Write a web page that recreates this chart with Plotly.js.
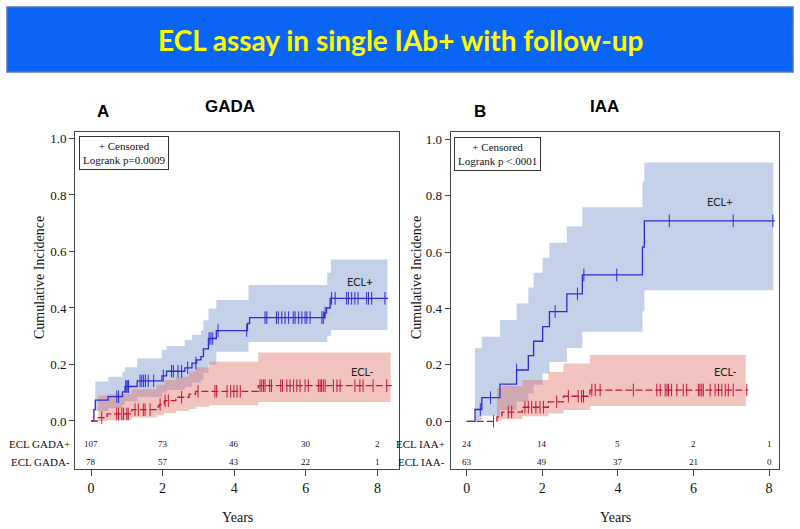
<!DOCTYPE html>
<html>
<head>
<meta charset="utf-8">
<script src="https://cdn.plot.ly/plotly-3.0.1.min.js"></script>
<style>html,body{margin:0;padding:0;background:#fff}#chart{width:800px;height:529px}</style>
</head>
<body>
<div id="chart"></div>
<script>
// ---------------- DATA ----------------
// Panel A: GADA
const gadaPosTimes = [0, 0.08, 0.12, 0.48, 0.88, 0.95, 1.29, 1.98, 2.11, 2.62, 2.82, 2.95, 3.07, 3.14, 3.28, 3.50, 4.37, 4.43, 6.52, 6.58, 6.68, 8.30];
const gadaPosVals  = [0, 0.04, 0.074, 0.086, 0.103, 0.122, 0.142, 0.16, 0.176, 0.188, 0.205, 0.216, 0.228, 0.255, 0.292, 0.32, 0.345, 0.366, 0.383, 0.40, 0.434, 0.434];
const gadaPosCens  = [0.72, 0.77, 0.97, 1.0, 1.03, 1.05, 1.37, 1.42, 1.47, 1.52, 1.6, 1.75, 2.02, 2.25, 2.3, 2.43, 2.53, 2.7, 2.93, 3.3, 3.35, 3.4, 3.55, 4.35, 4.86, 4.91, 5.18, 5.23, 5.33, 5.42, 5.52, 5.65, 5.7, 5.8, 5.89, 5.98, 6.03, 6.12, 6.45, 6.49, 6.54, 6.72, 6.82, 7.14, 7.19, 7.28, 7.37, 7.46, 7.7, 7.75, 7.84, 8.21];
const gadaPosBandTimes = [0.12, 0.48, 0.88, 0.95, 1.29, 1.98, 2.11, 2.62, 2.82, 3.07, 3.14, 3.28, 3.50, 4.40, 6.60, 6.70];
const gadaPosBandUpper = [0.14, 0.157, 0.174, 0.19, 0.221, 0.251, 0.265, 0.287, 0.305, 0.32, 0.357, 0.398, 0.428, 0.481, 0.525, 0.572];
const gadaPosBandLower = [0.035, 0.045, 0.058, 0.07, 0.085, 0.10, 0.11, 0.12, 0.135, 0.145, 0.17, 0.20, 0.245, 0.28, 0.30, 0.322];
const gadaPosBandEnd = 8.28;

const gadaNegTimes = [0, 0.2, 0.45, 1.14, 1.83, 1.9, 2.05, 2.37, 2.74, 2.92, 4.67, 8.40];
const gadaNegVals  = [0, 0.012, 0.025, 0.04, 0.05, 0.058, 0.072, 0.084, 0.095, 0.105, 0.125, 0.125];
const gadaNegCens  = [0.3, 0.72, 0.77, 0.86, 0.91, 1.0, 1.04, 1.23, 1.32, 1.46, 1.51, 1.65, 1.93, 2.07, 2.16, 2.53, 2.99, 3.46, 3.51, 3.8, 3.9, 3.99, 4.08, 4.17, 4.72, 4.77, 4.82, 4.86, 4.99, 5.04, 5.3, 5.35, 5.47, 5.56, 5.66, 5.75, 5.84, 5.98, 6.07, 6.35, 6.4, 6.44, 6.49, 6.54, 6.77, 6.87, 6.96, 7.37, 7.51, 7.6, 7.88, 8.26];
const gadaNegBandTimes = [0.2, 0.45, 1.14, 1.83, 2.05, 2.37, 2.74, 2.92, 3.3, 4.67];
const gadaNegBandUpper = [0.09, 0.095, 0.112, 0.128, 0.145, 0.157, 0.175, 0.19, 0.21, 0.242];
const gadaNegBandLower = [0.0, 0.003, 0.012, 0.02, 0.028, 0.035, 0.042, 0.05, 0.056, 0.067];
const gadaNegBandEnd = 8.37;

// Panel B: IAA
const iaaPosTimes = [0, 0.22, 0.40, 0.88, 1.32, 1.63, 1.77, 2.01, 2.19, 2.65, 3.06, 4.65, 4.70, 8.15];
const iaaPosVals  = [0, 0.042, 0.084, 0.132, 0.182, 0.233, 0.284, 0.336, 0.389, 0.452, 0.519, 0.618, 0.711, 0.711];
const iaaPosCens  = [0.36, 0.63, 1.32, 2.34, 2.93, 3.1, 3.97, 5.36, 7.05, 8.1];
const iaaPosBandTimes = [0.22, 0.40, 0.88, 1.32, 1.63, 1.77, 2.01, 2.19, 2.65, 3.06, 4.65, 4.70];
const iaaPosBandUpper = [0.259, 0.30, 0.359, 0.418, 0.475, 0.527, 0.58, 0.633, 0.692, 0.759, 0.85, 0.918];
const iaaPosBandLower = [0.003, 0.02, 0.04, 0.07, 0.10, 0.13, 0.17, 0.21, 0.26, 0.318, 0.39, 0.465];
const iaaPosBandEnd = 8.11;

const iaaNegTimes = [0, 0.8, 0.93, 1.47, 2.16, 2.56, 3.26, 7.45];
const iaaNegVals  = [0, 0.016, 0.033, 0.05, 0.069, 0.089, 0.111, 0.111];
const iaaNegCens  = [0.71, 1.1, 1.19, 1.54, 1.63, 1.72, 1.83, 1.94, 2.03, 2.38, 2.69, 2.95, 3.04, 3.09, 3.31, 3.4, 3.53, 4.41, 5.03, 5.12, 5.25, 5.3, 5.34, 5.42, 5.56, 5.73, 5.82, 6.13, 6.17, 6.22, 6.26, 6.44, 6.57, 6.66, 6.75, 6.84, 6.92, 7.05, 7.41];
const iaaNegBandTimes = [0.8, 0.93, 1.47, 2.16, 2.56, 3.26];
const iaaNegBandUpper = [0.117, 0.125, 0.147, 0.175, 0.205, 0.235];
const iaaNegBandLower = [0.002, 0.008, 0.018, 0.028, 0.04, 0.054];
const iaaNegBandEnd = 7.38;

// Number at risk
const riskYears = [0, 2, 4, 6, 8];
const gadaPosRisk = [107, 73, 46, 30, 2];
const gadaNegRisk = [78, 57, 43, 22, 1];
const iaaPosRisk = [24, 14, 5, 2, 1];
const iaaNegRisk = [63, 49, 37, 21, 0];

const xTickVals = [0, 2, 4, 6, 8];
const yTickVals = [0, 0.2, 0.4, 0.6, 0.8, 1.0];
const yTickText = ['0.0', '0.2', '0.4', '0.6', '0.8', '1.0'];

// ---------------- HELPERS ----------------
const SERIF = 'Liberation Serif, Times New Roman, serif';
const SANS = 'Lato, Open Sans, sans-serif';
const BLUE = 'rgb(43,43,217)';
const RED = 'rgb(200,22,52)';
const BLUE_FILL = 'rgba(110,140,200,0.4)';
const RED_FILL = 'rgba(222,107,97,0.4)';

function stepAt(times, vals, t) {
  let v = vals[0];
  for (let i = 0; i < times.length; i++) { if (times[i] <= t) v = vals[i]; }
  return v;
}
function bandTrace(times, up, lo, end, color, xa, ya) {
  const xs = [], ys = [];
  for (let i = 0; i < times.length; i++) {
    const t1 = i + 1 < times.length ? times[i + 1] : end;
    xs.push(times[i], t1); ys.push(up[i], up[i]);
  }
  for (let i = times.length - 1; i >= 0; i--) {
    const t1 = i + 1 < times.length ? times[i + 1] : end;
    xs.push(t1, times[i]); ys.push(lo[i], lo[i]);
  }
  return {x: xs, y: ys, xaxis: xa, yaxis: ya, mode: 'lines', fill: 'toself', fillcolor: color,
    line: {width: 0}, hoverinfo: 'skip', type: 'scatter'};
}
function curveTrace(times, vals, color, dash, xa, ya) {
  return {x: times, y: vals, xaxis: xa, yaxis: ya, mode: 'lines', type: 'scatter',
    line: {color: color, width: 1.3, shape: 'hv', dash: dash}};
}
function censTrace(times, vals, cens, color, xa, ya) {
  return {x: cens, y: cens.map(t => stepAt(times, vals, t)), xaxis: xa, yaxis: ya, mode: 'markers', type: 'scatter',
    marker: {symbol: 'line-ns', size: 9, color: color, line: {color: color, width: 1}}};
}

const traces = [
  bandTrace(gadaPosBandTimes, gadaPosBandUpper, gadaPosBandLower, gadaPosBandEnd, BLUE_FILL, 'x', 'y'),
  bandTrace(gadaNegBandTimes, gadaNegBandUpper, gadaNegBandLower, gadaNegBandEnd, RED_FILL, 'x', 'y'),
  curveTrace(gadaPosTimes, gadaPosVals, BLUE, 'solid', 'x', 'y'),
  curveTrace(gadaNegTimes, gadaNegVals, RED, '7px,3px', 'x', 'y'),
  censTrace(gadaPosTimes, gadaPosVals, gadaPosCens, BLUE, 'x', 'y'),
  censTrace(gadaNegTimes, gadaNegVals, gadaNegCens, RED, 'x', 'y'),
  bandTrace(iaaPosBandTimes, iaaPosBandUpper, iaaPosBandLower, iaaPosBandEnd, BLUE_FILL, 'x2', 'y2'),
  bandTrace(iaaNegBandTimes, iaaNegBandUpper, iaaNegBandLower, iaaNegBandEnd, RED_FILL, 'x2', 'y2'),
  curveTrace(iaaPosTimes, iaaPosVals, BLUE, 'solid', 'x2', 'y2'),
  curveTrace(iaaNegTimes, iaaNegVals, RED, '7px,3px', 'x2', 'y2'),
  censTrace(iaaPosTimes, iaaPosVals, iaaPosCens, BLUE, 'x2', 'y2'),
  censTrace(iaaNegTimes, iaaNegVals, iaaNegCens, RED, 'x2', 'y2'),
];

// ---------------- LAYOUT ----------------
const W = 800, H = 529;
const px = v => v / W, py = v => 1 - v / H;

function xAx(domain, range, anchor) {
  return {domain: domain, range: range, anchor: anchor, tickvals: xTickVals, ticks: 'outside', ticklen: 6,
    tickcolor: '#444', showline: true, mirror: true, linecolor: '#444', linewidth: 1, showgrid: false, zeroline: false,
    tickfont: {family: SERIF, size: 14, color: '#111'}, fixedrange: true};
}
function yAx(domain, range, anchor) {
  return {domain: domain, range: range, anchor: anchor, tickvals: yTickVals, ticktext: yTickText, ticks: 'outside', ticklen: 5,
    tickcolor: '#444', showline: true, mirror: true, linecolor: '#444', linewidth: 1, showgrid: false, zeroline: false,
    tickfont: {family: SERIF, size: 13, color: '#111'}, fixedrange: true};
}

const annotations = [];
function ann(o) { annotations.push(Object.assign({showarrow: false, xanchor: 'center', yanchor: 'middle'}, o)); }

// Header title
ann({xref: 'paper', yref: 'paper', x: 0.5, y: py(40),
  text: '<b>ECL assay in single IAb+ with follow-up</b>', font: {family: SANS, size: 28, color: '#ffff00'}});
// Panel letters / titles
const TFONT = {family: 'Liberation Sans, Arial', size: 17, color: '#000'};
ann({xref: 'paper', yref: 'paper', x: px(103), y: py(111), text: '<b>A</b>', font: TFONT});
ann({xref: 'paper', yref: 'paper', x: px(230), y: py(106), text: '<b>GADA</b>', font: TFONT});
ann({xref: 'paper', yref: 'paper', x: px(480), y: py(111), text: '<b>B</b>', font: TFONT});
ann({xref: 'paper', yref: 'paper', x: px(604), y: py(106), text: '<b>IAA</b>', font: TFONT});
// Axis titles
const AFONT = {family: SERIF, size: 14, color: '#111'};
ann({xref: 'paper', yref: 'paper', x: px(39), y: py(278), textangle: -90, text: 'Cumulative Incidence', font: AFONT});
ann({xref: 'paper', yref: 'paper', x: px(416), y: py(278), textangle: -90, text: 'Cumulative Incidence', font: AFONT});
ann({xref: 'paper', yref: 'paper', x: px(237), y: py(517), text: 'Years', font: AFONT});
ann({xref: 'paper', yref: 'paper', x: px(615), y: py(517), text: 'Years', font: AFONT});
// Legend boxes
const LFONT = {family: SERIF, size: 11, color: '#111'};
ann({xref: 'paper', yref: 'paper', x: px(79), y: py(136), xanchor: 'left', yanchor: 'top', align: 'center',
  text: '+ Censored<br>Logrank p=0.0009', font: LFONT,
  bordercolor: '#333', borderwidth: 1, borderpad: 3, bgcolor: '#fff'});
ann({xref: 'paper', yref: 'paper', x: px(453.5), y: py(137), xanchor: 'left', yanchor: 'top', align: 'center',
  text: '+ Censored<br>Logrank p &lt;.0001', font: LFONT,
  bordercolor: '#333', borderwidth: 1, borderpad: 3, bgcolor: '#fff'});
// Curve labels
const CFONT = {family: SANS, size: 11, color: '#222'};
ann({xref: 'x', yref: 'y', x: 7.51, y: 0.493, text: 'ECL<b>+</b>', font: CFONT});
ann({xref: 'x', yref: 'y', x: 7.56, y: 0.175, text: 'ECL-', font: CFONT});
ann({xref: 'x2', yref: 'y2', x: 6.7, y: 0.779, text: 'ECL+', font: CFONT});
ann({xref: 'x2', yref: 'y2', x: 6.83, y: 0.176, text: 'ECL-', font: CFONT});
// At-risk table
const ROW1 = py(444), ROW2 = py(462);
function riskRows(xa, vals, row) {
  riskYears.forEach((yr, i) => ann({xref: xa, yref: 'paper', x: yr, y: row, text: String(vals[i]),
    font: {family: SERIF, size: 9, color: '#111'}}));
}
riskRows('x', gadaPosRisk, ROW1); riskRows('x', gadaNegRisk, ROW2);
riskRows('x2', iaaPosRisk, ROW1); riskRows('x2', iaaNegRisk, ROW2);
const RFONT = {family: SERIF, size: 11, color: '#111'};
ann({xref: 'paper', yref: 'paper', x: px(72), y: ROW1, xanchor: 'right', text: 'ECL GADA+', font: RFONT});
ann({xref: 'paper', yref: 'paper', x: px(72), y: ROW2, xanchor: 'right', text: 'ECL GADA-', font: RFONT});
ann({xref: 'paper', yref: 'paper', x: px(447.5), y: ROW1, xanchor: 'right', text: 'ECL IAA+', font: RFONT});
ann({xref: 'paper', yref: 'paper', x: px(447.5), y: ROW2, xanchor: 'right', text: 'ECL IAA-', font: RFONT});

const layout = {
  width: W, height: H, margin: {l: 0, r: 0, t: 0, b: 0}, paper_bgcolor: '#fff', plot_bgcolor: '#fff',
  showlegend: false,
  xaxis: xAx([px(75), px(399)], [-0.447, 8.603], 'y'),
  yaxis: yAx([1 - 469 / H, 1 - 132 / H], [-0.170, 1.023], 'x'),
  xaxis2: xAx([px(450.7), px(779)], [-0.423, 8.262], 'y2'),
  yaxis2: yAx([1 - 469 / H, 1 - 131.7 / H], [-0.169, 1.027], 'x2'),
  shapes: [{type: 'rect', xref: 'paper', yref: 'paper', x0: px(7), x1: px(793), y0: py(72), y1: py(7),
    fillcolor: '#0a64f5', line: {color: '#5a78a8', width: 1.5}, layer: 'below'}],
  annotations: annotations
};

Plotly.newPlot('chart', traces, layout, {displayModeBar: false, staticPlot: true});
</script>
</body>
</html>
